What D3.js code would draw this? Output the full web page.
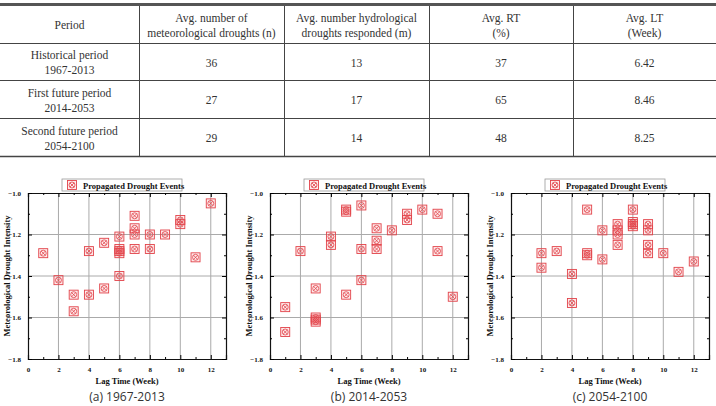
<!DOCTYPE html>
<html>
<head>
<meta charset="utf-8">
<script src="https://cdn.jsdelivr.net/npm/d3@7"></script>
<style>
  body { margin: 0; background: #fff; }
  svg { display: block; }
  .tbl { font-family: "Liberation Serif", "Times New Roman", serif; font-size: 11.5px; fill: #333; }
  .ax text { font-family: "Liberation Serif", serif; font-weight: bold; font-size: 7px; fill: #111; }
  .lbl { font-family: "Liberation Serif", serif; font-weight: bold; font-size: 8.5px; fill: #111; }
  .cap { font-family: "Open Sans", "Noto Sans", sans-serif; font-size: 12px; fill: #333; }
</style>
</head>
<body>
<svg id="chart" width="716" height="406"></svg>
<script>
// table content
const tableHeader = [["Period"], ["Avg. number of", "meteorological droughts (n)"],
  ["Avg. number hydrological", "droughts responded (m)"], ["Avg. RT", "(%)"], ["Avg. LT", "(Week)"]];
const periods = [["Historical period", "1967-2013"], ["First future period", "2014-2053"],
  ["Second future period", "2054-2100"]];
const avgMet = [36, 27, 29];
const avgHyd = [13, 17, 14];
const avgRT = [37, 65, 48];
const avgLT = ["6.42", "8.46", "8.25"];

// scatter panels: [lag time (week), meteorological drought intensity]
const events1967 = [[1, -1.29], [2, -1.42], [3, -1.49], [3, -1.57], [4, -1.28], [4, -1.49],
  [5, -1.24], [5, -1.46], [6, -1.21], [6, -1.27], [6, -1.28], [6, -1.29], [6, -1.40],
  [7, -1.11], [7, -1.17], [7, -1.20], [7, -1.27], [8, -1.20], [8, -1.27], [9, -1.20],
  [10, -1.13], [10, -1.15], [11, -1.31], [12, -1.05]];
const events2014 = [[1, -1.55], [1, -1.67], [2, -1.28], [3, -1.46], [3, -1.60], [3, -1.61],
  [3, -1.62], [4, -1.21], [4, -1.25], [5, -1.08], [5, -1.09], [5, -1.49], [6, -1.06],
  [6, -1.27], [6, -1.42], [7, -1.17], [7, -1.23], [7, -1.27], [8, -1.18], [9, -1.10],
  [9, -1.13], [10, -1.08], [11, -1.10], [11, -1.28], [12, -1.50]];
const events2054 = [[2, -1.29], [2, -1.36], [3, -1.28], [4, -1.39], [4, -1.53], [5, -1.08],
  [5, -1.29], [5, -1.30], [6, -1.18], [6, -1.32], [7, -1.15], [7, -1.18], [7, -1.20],
  [7, -1.25], [8, -1.08], [8, -1.14], [8, -1.15], [8, -1.16], [9, -1.15], [9, -1.18],
  [9, -1.25], [9, -1.29], [10, -1.29], [11, -1.38], [12, -1.33]];
const captions = ["(a) 1967-2013", "(b) 2014-2053", "(c) 2054-2100"];
const xTicks = [0, 2, 4, 6, 8, 10, 12];
const yTicks = [-1.0, -1.2, -1.4, -1.6, -1.8];

const svg = d3.select("#chart");

// ---- table ----
const colEdges = [0, 139, 284, 429, 573, 716];
const rowEdges = [5, 43, 80, 118, 156];
const tbl = svg.append("g").attr("class", "tbl");

tbl.append("line").attr("x1", 0).attr("x2", 716).attr("y1", 4.5).attr("y2", 4.5)
  .attr("stroke", "#555").attr("stroke-width", 3);
rowEdges.slice(1).forEach((y, i) => {
  tbl.append("line").attr("x1", 0).attr("x2", 716).attr("y1", y + 0.5).attr("y2", y + 0.5)
    .attr("stroke", "#444").attr("stroke-width", i === 3 ? 1.5 : 1);
});
colEdges.slice(1, -1).forEach(x => {
  tbl.append("line").attr("x1", x + 0.5).attr("x2", x + 0.5).attr("y1", 6).attr("y2", 156)
    .attr("stroke", "#444");
});

function cell(lines, col, row) {
  const cx = (colEdges[col] + colEdges[col + 1]) / 2;
  const cy = (rowEdges[row] + rowEdges[row + 1]) / 2 + 1;
  const lh = 15;
  lines.forEach((t, k) => {
    tbl.append("text").attr("x", cx).attr("y", cy + (k - (lines.length - 1) / 2) * lh)
      .attr("dy", "0.35em").attr("text-anchor", "middle").text(t);
  });
}
tableHeader.forEach((h, c) => cell(h, c, 0));
periods.forEach((p, r) => {
  cell(p, 0, r + 1);
  cell([String(avgMet[r])], 1, r + 1);
  cell([String(avgHyd[r])], 2, r + 1);
  cell([String(avgRT[r])], 3, r + 1);
  cell([avgLT[r]], 4, r + 1);
});

// ---- scatter panels ----
const panels = [events1967, events2014, events2054];
const offsets = [28, 270, 511];
const plotTop = 193, plotBottom = 359, plotWidth = 198;
const red = "#e2434a";

function marker(g, x, y) {
  const m = g.append("g").attr("transform", `translate(${x},${y})`);
  m.append("rect").attr("x", -4.5).attr("y", -4.5).attr("width", 9).attr("height", 9)
    .attr("fill", "rgba(240,120,120,0.15)").attr("stroke", red).attr("stroke-width", 0.9);
  m.append("circle").attr("r", 3).attr("fill", "none").attr("stroke", red).attr("stroke-width", 0.8);
  m.append("path").attr("d", "M-2.1,-2.1L2.1,2.1M-2.1,2.1L2.1,-2.1").attr("stroke", red).attr("stroke-width", 0.8);
}

panels.forEach((data, i) => {
  const ox = offsets[i];
  const x = d3.scaleLinear().domain([0, 13]).range([ox, ox + plotWidth]);
  const y = d3.scaleLinear().domain([-1.8, -1.0]).range([plotBottom, plotTop]);
  const g = svg.append("g");

  // grid
  g.selectAll(".gx").data(xTicks.slice(1)).join("line")
    .attr("x1", d => x(d)).attr("x2", d => x(d)).attr("y1", plotTop).attr("y2", plotBottom)
    .attr("stroke", "#aaa").attr("stroke-width", 1);
  g.selectAll(".gy").data(yTicks.slice(1, -1)).join("line")
    .attr("x1", ox).attr("x2", ox + plotWidth).attr("y1", d => y(d)).attr("y2", d => y(d))
    .attr("stroke", "#aaa").attr("stroke-width", 1);

  // inward ticks on all four sides
  const xMinor = d3.range(1, 13, 2), yMinor = [-1.7, -1.5, -1.3, -1.1];
  const axB = d3.axisBottom(x).tickValues(xTicks).tickSize(-4).tickPadding(8).tickFormat(d3.format("d"));
  const axT = d3.axisTop(x).tickValues(xTicks).tickSize(-4).tickFormat("");
  const axL = d3.axisLeft(y).tickValues(yTicks).tickSize(-4).tickPadding(7).tickFormat(d3.format(".1f"));
  const axR = d3.axisRight(y).tickValues(yTicks).tickSize(-4).tickFormat("");
  [[axB, `0,${plotBottom}`], [axT, `0,${plotTop}`], [axL, `${ox},0`], [axR, `${ox + plotWidth},0`]].forEach(([a, t]) => {
    g.append("g").attr("class", "ax").attr("transform", `translate(${t})`).call(a)
      .call(s => s.select(".domain").attr("stroke", "#111").attr("stroke-width", 1.2));
  });
  g.append("g").attr("transform", `translate(0,${plotBottom})`)
    .call(d3.axisBottom(x).tickValues(xMinor).tickSize(-2).tickFormat(""))
    .call(s => s.select(".domain").remove());
  g.append("g").attr("transform", `translate(0,${plotTop})`)
    .call(d3.axisTop(x).tickValues(xMinor).tickSize(-2).tickFormat(""))
    .call(s => s.select(".domain").remove());
  g.append("g").attr("transform", `translate(${ox},0)`)
    .call(d3.axisLeft(y).tickValues(yMinor).tickSize(-2).tickFormat(""))
    .call(s => s.select(".domain").remove());
  g.append("g").attr("transform", `translate(${ox + plotWidth},0)`)
    .call(d3.axisRight(y).tickValues(yMinor).tickSize(-2).tickFormat(""))
    .call(s => s.select(".domain").remove());

  // points
  data.forEach(d => marker(g, x(d[0]), y(d[1])));

  // legend
  const lg = g.append("g").attr("transform", `translate(${ox + 34},179)`);
  lg.append("rect").attr("width", 120).attr("height", 12).attr("fill", "#fff")
    .attr("stroke", "#999").attr("stroke-width", 0.8);
  marker(lg, 10, 6);
  lg.append("text").attr("class", "lbl").attr("x", 21).attr("y", 9.5).text("Propagated Drought Events");

  // axis labels and caption
  g.append("text").attr("class", "lbl").attr("text-anchor", "middle")
    .attr("transform", `translate(${ox - 18},${(plotTop + plotBottom) / 2}) rotate(-90)`)
    .text("Meteorological Drought Intensity");
  g.append("text").attr("class", "lbl").attr("text-anchor", "middle")
    .attr("x", ox + plotWidth / 2).attr("y", 384).text("Lag Time (Week)");
  svg.append("text").attr("class", "cap").attr("text-anchor", "middle")
    .attr("x", ox + plotWidth / 2).attr("y", 401).text(captions[i]);
});
</script>
</body>
</html>
